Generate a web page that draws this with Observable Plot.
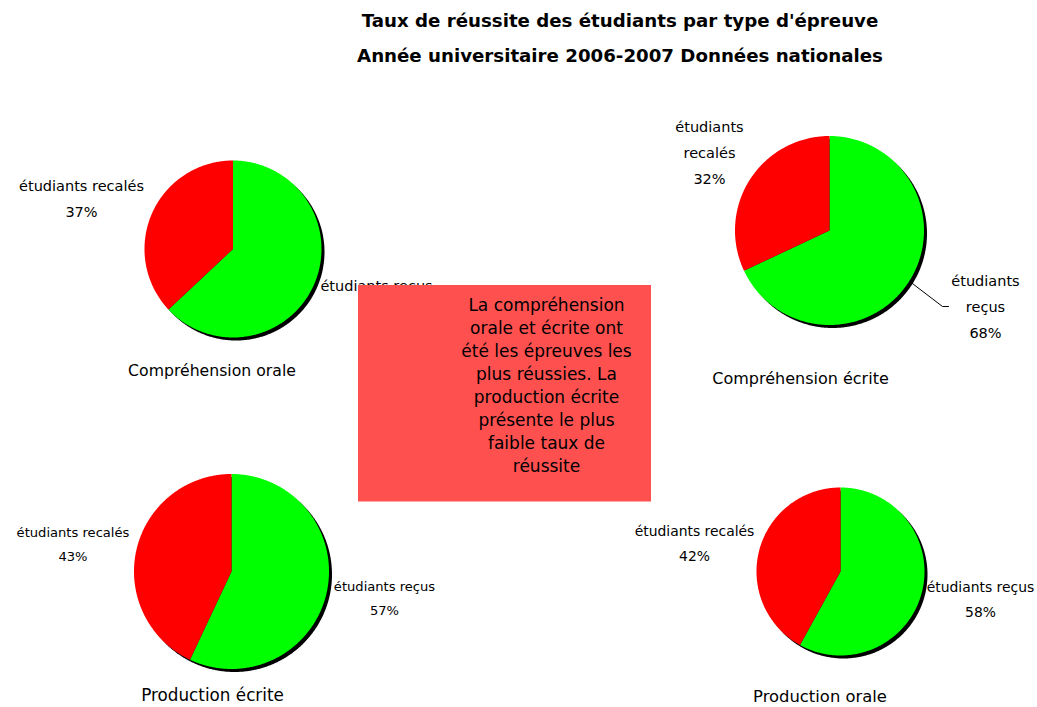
<!DOCTYPE html>
<html><head><meta charset="utf-8">
<script src="https://cdn.jsdelivr.net/npm/d3@7"></script>
<script src="https://cdn.jsdelivr.net/npm/@observablehq/plot@0.6"></script>
<style>
html,body{margin:0;padding:0;background:#fff;}
#title{width:1037px;height:80px;box-sizing:border-box;padding:3px 0 0 203px;text-align:center;font:bold 18.2px/35px "DejaVu Sans",sans-serif;color:#000;white-space:nowrap;}
#chart svg{display:block;}
</style></head><body>
<div id="title">Taux de réussite des étudiants par type d'épreuve<br>Année universitaire 2006-2007 Données nationales</div>
<div id="chart"></div>
<script>
// ---- data ----
const epreuves = ["Compréhension orale", "Compréhension écrite", "Production écrite", "Production orale"];
const recus = [63, 68, 57, 58];
const recales = [37, 32, 43, 42];
const categories = ["étudiants reçus", "étudiants recalés"];
const note = "La compréhension\norale et écrite ont\nété les épreuves les\nplus réussies. La\nproduction écrite\nprésente le plus\nfaible taux de\nréussite";

// ---- layout (page pixel coordinates) ----
const pieCX = [232.5, 829, 231, 840];
const pieCY = [248.5, 230, 571, 571];
const pieR = [88.5, 94.5, 97.5, 84];
const recusLabelX = [376, 985, 384, 980];
const recusLabelY = [295, 303, 595, 596];
const recalesLabelX = [81, 709, 72.5, 694];
const recalesLabelY = [195, 149, 541, 540];
const labelWrap = [false, true, false, false];
const labelSize = [14.5, 14.5, 13.1, 13.9];
const leaderPie = 1;
const leaderElbow = [942, 306];
const leaderEnd = [948, 306];
const pieTitleX = [211.5, 800, 212, 819.5];
const pieTitleY = [370, 378, 695, 696];
const pieTitleSize = [15.7, 16, 16.8, 16.4];
const noteBox = {x1: 358, x2: 651, y1: 285, y2: 501.5};
const noteX = 546, noteY = 384;
const colors = ["#00ff00", "#ff0000"];
const font = "DejaVu Sans";
const top0 = 80, W = 1037, H = 707 - top0;

// ---- derived geometry ----
const slices = [], shadows = [], labels = [], titles = [];
epreuves.forEach((e, i) => {
  const cx = pieCX[i], cy = pieCY[i], r = pieR[i];
  const arcs = d3.pie().sort(null).value(d => d)([recus[i], recales[i]]);
  arcs.forEach((a, j) => {
    const key = `${i}-${j}`;
    const n = Math.max(2, Math.ceil((a.endAngle - a.startAngle) / 0.01));
    slices.push({key, cat: categories[j], x: cx, y: cy});
    for (let k = 0; k <= n; k++) {
      const t = a.startAngle + (a.endAngle - a.startAngle) * k / n;
      slices.push({key, cat: categories[j], x: cx + r * Math.sin(t), y: cy - r * Math.cos(t)});
    }
  });
  for (let k = 0; k <= 720; k++) {
    const t = 2 * Math.PI * k / 720;
    shadows.push({key: i, x: cx + r * Math.sin(t), y: cy - r * Math.cos(t)});
  }
  const vals = [recus[i], recales[i]];
  const lx = [recusLabelX[i], recalesLabelX[i]], ly = [recusLabelY[i], recalesLabelY[i]];
  categories.forEach((c, j) => {
    const name = labelWrap[i] ? c.replace(" ", "\n") : c;
    labels.push({x: lx[j], y: ly[j], size: labelSize[i], text: `${name}\n${vals[j]}%`});
  });
  titles.push({x: pieTitleX[i], y: pieTitleY[i], size: pieTitleSize[i], text: e});
});
// leader line for pie 2 "reçus" slice
const la = d3.pie().sort(null).value(d => d)([recus[leaderPie], recales[leaderPie]])[0];
const mid = (la.startAngle + la.endAngle) / 2;
const leader = [
  {x: pieCX[leaderPie] + pieR[leaderPie] * Math.sin(mid), y: pieCY[leaderPie] - pieR[leaderPie] * Math.cos(mid)},
  {x: leaderElbow[0], y: leaderElbow[1]},
  {x: leaderEnd[0], y: leaderEnd[1]}
];

const chart = Plot.plot({
  width: W, height: H,
  margin: 0,
  style: {fontFamily: font, background: "#fff", color: "#000"},
  x: {domain: [0, W], range: [0, W], axis: null},
  y: {domain: [top0, 707], range: [0, H], axis: null},
  color: {domain: categories, range: colors},
  marks: [
    Plot.line(shadows, {x: "x", y: "y", z: "key", fill: "#000", stroke: "none", dx: 3, dy: 3}),
    Plot.line(slices, {x: "x", y: "y", z: "key", fill: "cat", stroke: "none"}),
    Plot.line(leader, {x: "x", y: "y", stroke: "#000", strokeWidth: 1}),
    Plot.text(labels, {x: "x", y: "y", text: "text", fontSize: "size", lineHeight: 1.8, fontFamily: font, fill: "#000"}),
    Plot.text(titles, {x: "x", y: "y", text: "text", fontSize: "size", fontFamily: font, fill: "#000"}),
    Plot.rect([noteBox], {x1: "x1", x2: "x2", y1: "y1", y2: "y2", fill: "#ff5050"}),
    Plot.text([note], {x: () => noteX, y: () => noteY, text: d => d, fontSize: 17, lineHeight: 1.355, fontFamily: font, fill: "#000"})
  ]
});
document.getElementById("chart").append(chart);
</script>
</body></html>
